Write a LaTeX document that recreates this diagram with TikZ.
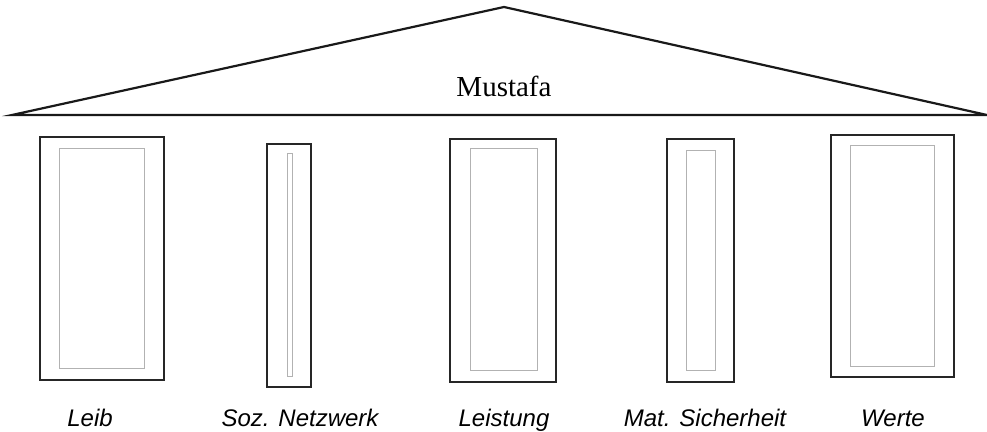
\documentclass[tikz,border=0pt]{standalone}
\usepackage{fontspec}
\setmainfont{Liberation Serif}
\setsansfont{Liberation Sans}
\begin{document}
\begin{tikzpicture}[x=0.5pt,y=-0.5pt,
  outerbox/.style={draw=black!85,line width=1pt},
  innerbox/.style={draw=black!30,line width=0.5pt},
  roofline/.style={draw=black!90,line width=1.1pt,line join=miter},
  lbl/.style={font=\sffamily\itshape\fontsize{12}{14}\selectfont,anchor=base,inner sep=0pt},
  ttl/.style={font=\fontsize{14.5}{16}\selectfont,anchor=base,inner sep=0pt}]
\useasboundingbox (0,0) rectangle (987,432);
% roof
\coordinate (apex) at (504,7);
\coordinate (bl) at (12,115);
\coordinate (br) at (987,115);
\draw[roofline] (bl) -- (apex) -- (br) -- cycle;
\node[ttl] (title) at (504,97) {Mustafa};
% pillars
\draw[outerbox] (40,137) rectangle (164,380);
\draw[innerbox] (59,149) rectangle (144,369);
\draw[outerbox] (267,144) rectangle (311,387);
\draw[innerbox] (287,154) rectangle (292,377);
\draw[outerbox] (450,139) rectangle (556,382);
\draw[innerbox] (470,149) rectangle (537,371);
\draw[outerbox] (667,139) rectangle (734,382);
\draw[innerbox] (686,151) rectangle (715,371);
\draw[outerbox] (831,135) rectangle (954,377);
\draw[innerbox] (850,146) rectangle (934,367);
% labels
\node[lbl] (l1) at (90,427) {Leib};
\node[lbl] (l2) at (300,427) {Soz. Netzwerk};
\node[lbl] (l3) at (504,427) {Leistung};
\node[lbl] (l4) at (705,427) {Mat. Sicherheit};
\node[lbl] (l5) at (893,427) {Werte};
\end{tikzpicture}
\end{document}
